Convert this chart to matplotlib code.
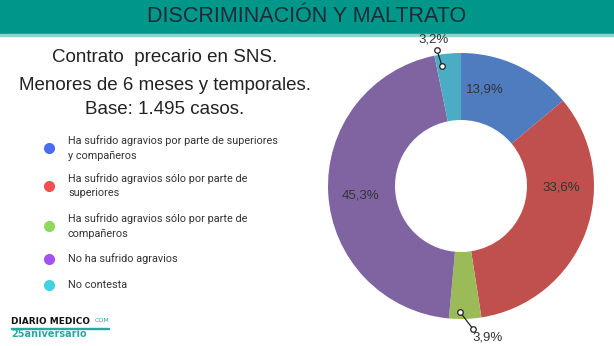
import matplotlib
matplotlib.use("Agg")
import matplotlib.pyplot as plt
from matplotlib.patches import Rectangle

# ---- data ----
categories = [
    "Ha sufrido agravios por parte de superiores\ny compañeros",
    "Ha sufrido agravios sólo por parte de\nsuperiores",
    "Ha sufrido agravios sólo por parte de\ncompañeros",
    "No ha sufrido agravios",
    "No contesta",
]
values = [13.9, 33.6, 3.9, 45.3, 3.2]
value_labels = ["13,9%", "33,6%", "3,9%", "45,3%", "3,2%"]
slice_colors = ["#4f7cbf", "#c0504d", "#9bbb59", "#8064a2", "#4bacc6"]
legend_colors = ["#4a6cf0", "#f24f4f", "#8ed85a", "#a452ee", "#3fd3df"]

title = "DISCRIMINACIÓN Y MALTRATO"
subtitle = ["Contrato  precario en SNS.", "Menores de 6 meses y temporales.", "Base: 1.495 casos."]

# ---- layout ----
W, H = 614, 346
fig = plt.figure(figsize=(W / 100, H / 100), dpi=100)
ax = fig.add_axes([0, 0, 1, 1])
ax.set_xlim(0, W)
ax.set_ylim(0, H)
ax.set_aspect("equal")
ax.axis("off")

def Y(py):
    return H - py

# header band
ax.add_patch(Rectangle((0, Y(34)), W, 34, color="#00978b", zorder=1))
ax.add_patch(Rectangle((0, Y(36)), W, 2, color="#8fd3cb", zorder=1))
ax.text(307, Y(16), title, ha="center", va="center", fontsize=15.5,
        color="#1c2b36", family="Liberation Sans", zorder=2)

# subtitle
for txt, py in zip(subtitle, [58, 85, 109]):
    ax.text(165, Y(py), txt, ha="center", va="center", fontsize=13.5,
            color="#222222", family="Liberation Sans")

# donut
cx, cy, R, r_in = 461, 186, 133, 66
wedges, _ = ax.pie(values, colors=slice_colors, startangle=90, counterclock=False,
                   center=(cx, Y(cy)), radius=R,
                   wedgeprops=dict(width=R - r_in, linewidth=0))
ax.set_xlim(0, W)
ax.set_ylim(0, H)

label_pos = [(485, 89), (561, 187), (488, 337), (361, 195), (434, 40)]
for lab, (lx, ly) in zip(value_labels, label_pos):
    ax.text(lx, Y(ly), lab, ha="center", va="center", fontsize=9.5,
            color="#333333", family="Liberation Sans", zorder=5)

# leader lines for small slices
leaders = [((460, 312), (473, 329)), ((437, 50), (442, 66))]
for (x1, y1), (x2, y2) in leaders:
    ax.plot([x1, x2], [Y(y1), Y(y2)], color="#222222", lw=0.9, zorder=4)
    ax.plot([x1, x2], [Y(y1), Y(y2)], "o", ms=4, mfc="white", mec="#222222",
            mew=0.9, zorder=5)

# legend
leg_y = [148, 186, 226, 259, 285]
for col, cat, my in zip(legend_colors, categories, leg_y):
    ax.plot([49], [Y(my)], "o", ms=7, color=col)
    ax.text(68, Y(my), cat, ha="left", va="center", fontsize=7.8,
            color="#333333", family="Roboto", linespacing=1.5)

# logo
ax.text(11, Y(322), "DIARIO MEDICO", ha="left", va="center", fontsize=6.4,
        fontweight="black", color="#111111", family="DejaVu Sans")
ax.text(94.5, Y(321), "COM", ha="left", va="center", fontsize=4.5,
        color="#2aa7a0", family="DejaVu Sans")
ax.add_patch(Rectangle((11, Y(329)), 98, 1.5, color="#2aa7a0"))
ax.text(11, Y(334), "25aniversario", ha="left", va="center", fontsize=7,
        fontweight="bold", color="#2aa7a0", family="DejaVu Sans")

fig.savefig("out.png", dpi=100, facecolor="white")
